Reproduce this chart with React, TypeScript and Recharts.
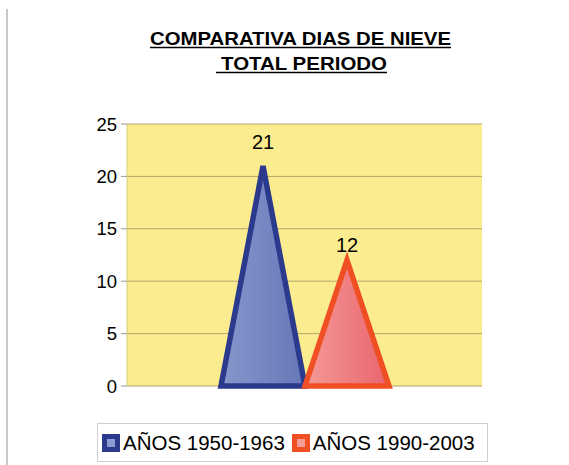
import React from 'react';
import { BarChart, Bar, XAxis, YAxis, CartesianGrid, LabelList } from 'recharts';

// values
const categories = ['TOTAL PERIODO'];
const series1950 = [21];
const series1990 = [12];
const seriesNames = ['AÑOS 1950-1963', 'AÑOS 1990-2003'];
const yTicks = [0, 5, 10, 15, 20, 25];
const titleLines = ['COMPARATIVA DIAS DE NIEVE', 'TOTAL PERIODO'];

const data = categories.map((name, i) => ({
  name,
  a: series1950[i],
  b: series1990[i],
}));

const FONT = '"Liberation Sans", Arial, sans-serif';

/** Bar drawn as a triangle: base on the axis, apex at the value. */
function Triangle(props: any) {
  const { x, y, width, height, fill, stroke } = props;
  if (width == null || height == null) return null;
  const pts = `${x},${y + height} ${x + width / 2},${y} ${x + width},${y + height}`;
  return <polygon points={pts} fill={fill} stroke={stroke} strokeWidth={5.5} />;
}

function LegendSwatch({ outer, inner }: { outer: string; inner: string }) {
  return (
    <span
      style={{
        display: 'inline-block',
        width: 18,
        height: 18,
        background: outer,
        position: 'relative',
        marginRight: 3,
        verticalAlign: -2,
      }}
    >
      <span
        style={{
          position: 'absolute',
          left: 5,
          top: 5,
          width: 8,
          height: 8,
          background: inner,
        }}
      />
    </span>
  );
}

export default function App() {
  return (
    <div
      style={{
        position: 'fixed',
        left: 0,
        top: 0,
        width: 569,
        height: 465,
        background: '#fff',
        fontFamily: FONT,
        overflow: 'hidden',
      }}
    >
      {/* gray edge on the left */}
      <div style={{ position: 'absolute', left: 6, top: 9, width: 2, bottom: 0, background: '#c8c8c8' }} />

      {/* title */}
      <svg width={569} height={90} style={{ position: 'absolute', left: 0, top: 0 }}>
        <text x={150} y={45} fontSize={18} fontWeight="bold" textLength={301} lengthAdjust="spacingAndGlyphs" fill="#000">
          {titleLines[0]}
        </text>
        <line x1={150} x2={451} y1={47.5} y2={47.5} stroke="#000" strokeWidth={1.6} />
        <text x={221} y={70} fontSize={18} fontWeight="bold" textLength={166} lengthAdjust="spacingAndGlyphs" fill="#000">
          {titleLines[1]}
        </text>
        <line x1={216} x2={387} y1={72.5} y2={72.5} stroke="#000" strokeWidth={1.6} />
      </svg>

      <div style={{ position: 'absolute', left: 0, top: 0 }}>
        <BarChart
          width={569}
          height={465}
          data={data}
          margin={{ top: 124, right: 87, bottom: 79, left: 0 }}
          barGap={0}
        >
          <defs>
            <linearGradient id="gBlue" x1="0" y1="0" x2="1" y2="0">
              <stop offset="0%" stopColor="#8896cc" />
              <stop offset="100%" stopColor="#6677b8" />
            </linearGradient>
            <linearGradient id="gRed" x1="0" y1="0" x2="1" y2="0">
              <stop offset="0%" stopColor="#f59a96" />
              <stop offset="100%" stopColor="#e9646e" />
            </linearGradient>
          </defs>
          <CartesianGrid vertical={false} fill="#fcec90" stroke="#b3a66c" />
          <XAxis dataKey="name" tick={false} tickLine={false} height={0} axisLine={{ stroke: '#9a9a9a' }} />
          <YAxis
            width={127}
            domain={[0, 25]}
            ticks={yTicks}
            interval={0}
            tickSize={6}
            tickMargin={4}
            tickLine={{ stroke: '#9a9a9a' }}
            axisLine={{ stroke: '#d8cb82' }}
            tick={{ fill: '#000', fontSize: 18.5, fontFamily: FONT }}
          />
          <Bar dataKey="a" name={seriesNames[0]} barSize={84} fill="url(#gBlue)" stroke="#2b3a8c" shape={<Triangle />} isAnimationActive={false}>
            <LabelList dataKey="a" position="top" offset={17} fill="#000" fontSize={20} fontFamily={FONT} />
          </Bar>
          <Bar dataKey="b" name={seriesNames[1]} barSize={84} fill="url(#gRed)" stroke="#f04e23" shape={<Triangle />} isAnimationActive={false}>
            <LabelList dataKey="b" position="top" offset={8} fill="#000" fontSize={20} fontFamily={FONT} />
          </Bar>
        </BarChart>
      </div>

      {/* legend */}
      <div
        style={{
          position: 'absolute',
          left: 97,
          top: 423,
          width: 391,
          height: 39,
          border: '1px solid #cfcfcf',
          boxSizing: 'border-box',
          fontSize: 20.5,
          color: '#000',
          whiteSpace: 'nowrap',
          paddingLeft: 4,
          lineHeight: '37px',
        }}
      >
        <LegendSwatch outer="#2b3a8c" inner="#8c9bd0" />
        <span style={{ marginRight: 7 }}>{seriesNames[0]}</span>
        <LegendSwatch outer="#f04e23" inner="#f59c98" />
        <span>{seriesNames[1]}</span>
      </div>
    </div>
  );
}
